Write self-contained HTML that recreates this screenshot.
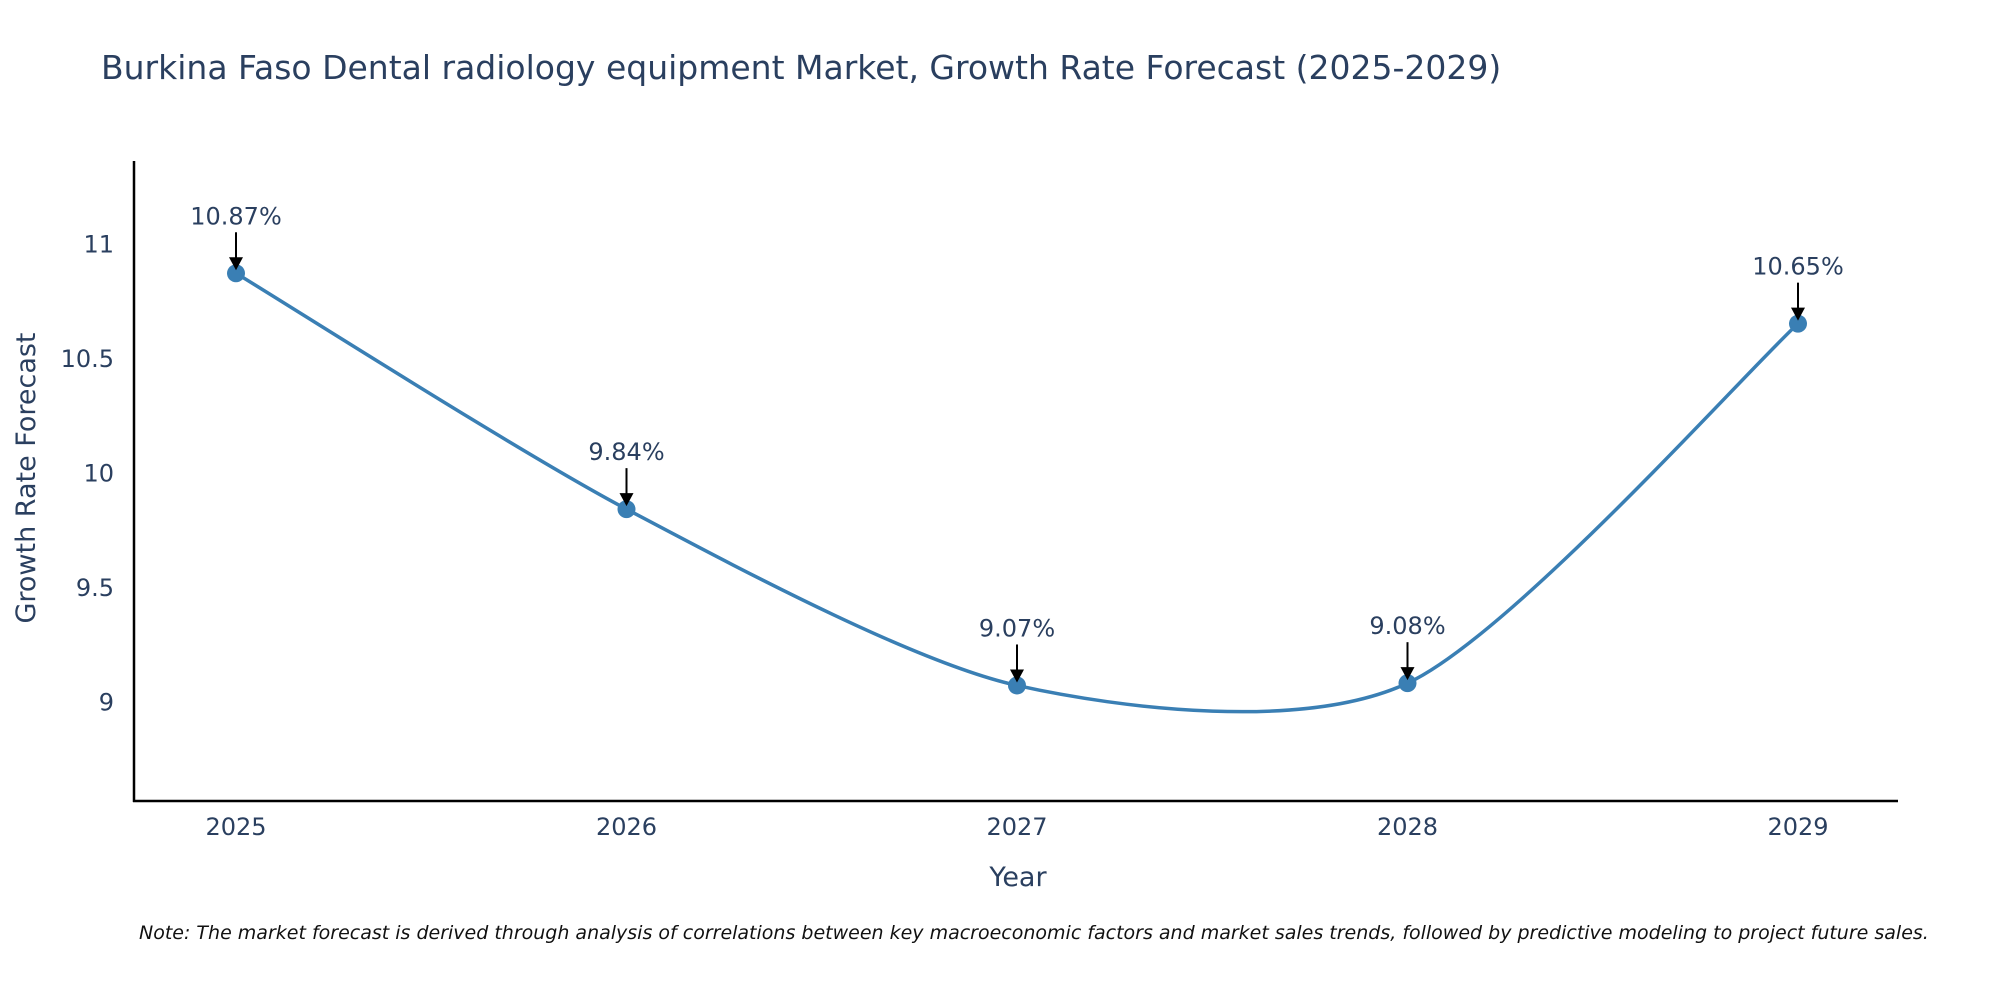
<!DOCTYPE html>
<html><head><meta charset="utf-8"><style>
html,body{margin:0;padding:0;background:#fff;overflow:hidden;}
svg text{font-family:"DejaVu Sans","Liberation Sans",sans-serif;fill:#2a3f5f;}
</style></head><body>
<svg id="chart" width="2000" height="1000" xmlns="http://www.w3.org/2000/svg">
<text x="101" y="79" font-size="33">Burkina Faso Dental radiology equipment Market, Growth Rate Forecast (2025-2029)</text>
<g id="axes"></g>
<g id="series"></g>
<g id="annots"></g>
<text x="1018" y="886" font-size="27" text-anchor="middle">Year</text>
<text x="0" y="0" font-size="27" text-anchor="middle" transform="translate(35,478) rotate(-90)">Growth Rate Forecast</text>
<text x="139" y="939" font-size="19" font-style="italic" style="fill:#111">Note: The market forecast is derived through analysis of correlations between key macroeconomic factors and market sales trends, followed by predictive modeling to project future sales.</text>
</svg>
<script>
const years = ["2025","2026","2027","2028","2029"];
const values = [10.87, 9.84, 9.07, 9.08, 10.65];
const labels = ["10.87%","9.84%","9.07%","9.08%","10.65%"];
const yTicks = [9, 9.5, 10, 10.5, 11];
const yTickLabels = ["9","9.5","10","10.5","11"];

const NS="http://www.w3.org/2000/svg";
const x0=236, xStep=390.5;
function xScale(i){return x0+i*xStep;}
function yScale(v){return 701.5-(v-9)*229;}
function mk(tag,attrs,parent){const e=document.createElementNS(NS,tag);for(const k in attrs)e.setAttribute(k,attrs[k]);parent.appendChild(e);return e;}
const axes=document.getElementById('axes'),series=document.getElementById('series'),ann=document.getElementById('annots');
let a=mk('line',{x1:134,y1:161,x2:134,y2:802,stroke:'#000','stroke-width':2.5},axes);


a=mk('line',{x1:133,y1:801,x2:1898,y2:801,stroke:'#000','stroke-width':2.5},axes);


yTicks.forEach((t,i)=>{const e=mk('text',{x:114,y:yScale(t)+9,'font-size':24,'text-anchor':'end'},axes);e.textContent=yTickLabels[i];

});
years.forEach((y,i)=>{const e=mk('text',{x:xScale(i),y:835,'font-size':24,'text-anchor':'middle'},axes);e.textContent=y;

});
const pts=values.map((v,i)=>[xScale(i),yScale(v)]);
const k=7.5;
let d=`M${pts[0][0]},${pts[0][1]}`;
for(let i=0;i<pts.length-1;i++){const p0=pts[Math.max(0,i-1)],p1=pts[i],p2=pts[i+1],p3=pts[Math.min(pts.length-1,i+2)];
const c1=[p1[0]+(p2[0]-p0[0])/k,p1[1]+(p2[1]-p0[1])/k],c2=[p2[0]-(p3[0]-p1[0])/k,p2[1]-(p3[1]-p1[1])/k];
d+=` C${c1[0]},${c1[1]} ${c2[0]},${c2[1]} ${p2[0]},${p2[1]}`;}
const line=mk('path',{d:d,fill:'none',stroke:'#3a7fb4','stroke-width':3.5},series);


pts.forEach((p,i)=>{const c=mk('circle',{cx:p[0],cy:p[1],r:9,fill:'#3a7fb4'},series);


const l=mk('line',{x1:p[0],y1:p[1]-41,x2:p[0],y2:p[1]-14,stroke:'#000','stroke-width':2},ann);


const h=mk('polygon',{points:`${p[0]-7},${p[1]-16} ${p[0]+7},${p[1]-16} ${p[0]},${p[1]-3}`,fill:'#000'},ann);


const t=mk('text',{x:p[0],y:p[1]-49,'font-size':24,'text-anchor':'middle'},ann);t.textContent=labels[i];

});
</script>
</body></html>
